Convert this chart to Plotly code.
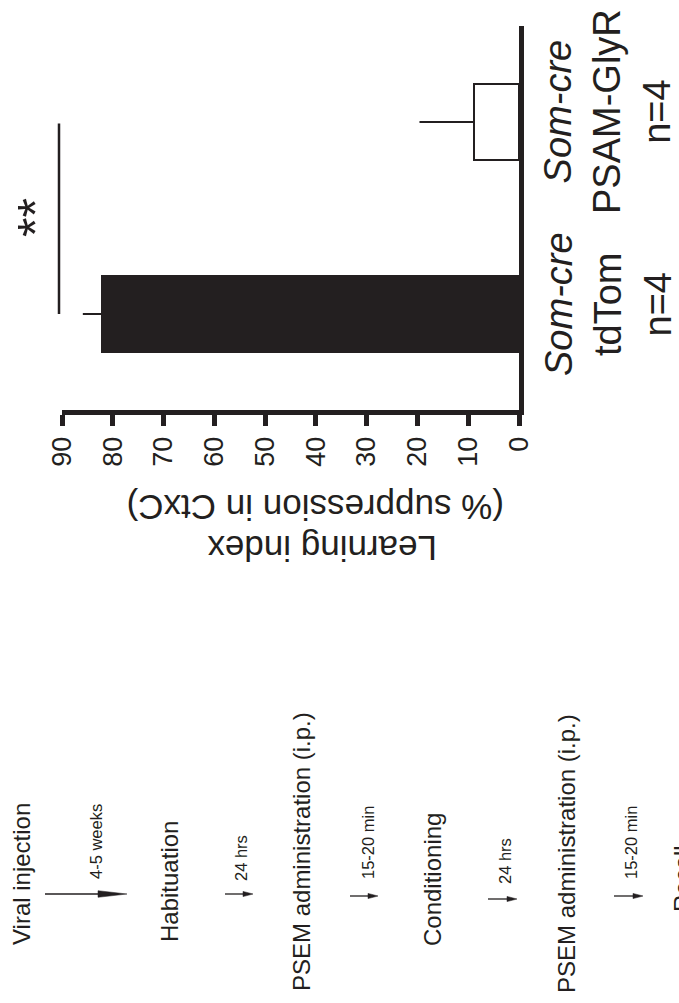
import plotly.graph_objects as go

# ---------------- data ----------------
categories = ["tdTom", "PSAM-GlyR"]
category_labels = ["<i>Som-cre</i><br>tdTom<br>n=4", "<i>Som-cre</i><br>PSAM-GlyR<br>n=4"]
learning_index = [82.2, 8.8]
learning_sem = [3.7, 10.8]
bar_colors = ["#231f20", "#ffffff"]
value_ticks = [0, 10, 20, 30, 40, 50, 60, 70, 80, 90]
sig_value = 90
sig_label = "**"
axis_title_lines = ["Learning index", "(% suppression in CtxC)"]

timeline_steps = ["Viral injection", "Habituation", "PSEM administration (i.p.)",
                  "Conditioning", "PSEM administration (i.p.)", "Recall"]
timeline_intervals = ["4-5 weeks", "24 hrs", "15-20 min", "24 hrs", "15-20 min"]

# ---------------- layout helpers ----------------
W, H = 679, 1003
INK = "#231f20"
FONT = "Liberation Sans, Arial, Helvetica, sans-serif"


def px(x):
    return x / W


def py(y):
    return 1 - y / H


fig = go.Figure(
    go.Bar(
        orientation="h",
        x=learning_index,
        y=categories,
        width=0.4,
        marker=dict(color=bar_colors, line=dict(color=INK, width=2)),
        error_x=dict(type="data", symmetric=False, array=learning_sem,
                     arrayminus=[0] * len(learning_sem), width=0,
                     thickness=2, color=INK),
        showlegend=False,
    )
)

annotations = []
shapes = []

# category labels (rotated)
for cat, lab in zip(categories, category_labels):
    annotations.append(dict(x=px(608), xref="paper", y=cat, yref="y", text=lab,
                            showarrow=False, textangle=-90, yshift=10,
                            font=dict(size=38, color=INK, family=FONT),
                            xanchor="center", yanchor="middle"))

# significance bracket (annotation arrow in data coords, not clipped)
annotations.append(dict(x=sig_value, y=categories[0], xref="x", yref="y",
                        ax=sig_value, ay=categories[1], axref="x", ayref="y",
                        text="", showarrow=True, arrowhead=0, arrowwidth=2.5,
                        arrowcolor=INK, standoff=0, startstandoff=0, xshift=-3))
annotations.append(dict(x=sig_value, xref="x", y=0.5, yref="y", text=sig_label,
                        showarrow=False, textangle=-90, xshift=-26,
                        font=dict(size=50, color=INK, family=FONT),
                        xanchor="center", yanchor="middle"))

# axis title (upside-down)
title_pos = [(322, 549), (316, 508)]
for t, (xx, yy) in zip(axis_title_lines, title_pos):
    annotations.append(dict(x=px(xx), y=py(yy), xref="paper", yref="paper", text=t,
                            showarrow=False, textangle=180,
                            font=dict(size=35, color=INK, family=FONT),
                            xanchor="center", yanchor="middle"))

# timeline texts
step_pos = [(21, 874), (169, 882), (301, 852), (432, 880), (566, 854), (682, 879)]
for t, (xx, yy) in zip(timeline_steps, step_pos):
    annotations.append(dict(x=px(xx), y=py(yy), xref="paper", yref="paper", text=t,
                            showarrow=False, textangle=-90,
                            font=dict(size=24, color=INK, family=FONT),
                            xanchor="center", yanchor="middle"))

interval_pos = [(96, 842), (241, 858), (368, 843), (505, 861), (631, 843)]
for t, (xx, yy) in zip(timeline_intervals, interval_pos):
    annotations.append(dict(x=px(xx), y=py(yy), xref="paper", yref="paper", text=t,
                            showarrow=False, textangle=-90,
                            font=dict(size=16.5, color=INK, family=FONT),
                            xanchor="center", yanchor="middle"))

# timeline arrows: (x start, x tip, y, head length, head half-height)
arrow_geom = [(45, 127, 894, 29, 3.3), (225, 253, 894, 10, 2.6), (350, 378, 896, 10, 2.6),
              (488, 517, 899, 10, 2.6), (614, 643, 896, 10, 2.6)]
for x0, x1, yy, hl, hh in arrow_geom:
    shapes.append(dict(type="line", xref="paper", yref="paper",
                       x0=px(x0), x1=px(x1 - hl + 1), y0=py(yy), y1=py(yy),
                       line=dict(color=INK, width=1.3)))
    path = (f"M {px(x1)} {py(yy)} L {px(x1 - hl)} {py(yy - hh)} "
            f"L {px(x1 - hl)} {py(yy + hh)} Z")
    shapes.append(dict(type="path", xref="paper", yref="paper", path=path,
                       fillcolor=INK, line=dict(color=INK, width=0.5)))

fig.update_layout(
    width=W, height=H, autosize=False,
    margin=dict(l=0, r=0, t=0, b=0, autoexpand=False),
    paper_bgcolor="white", plot_bgcolor="white",
    font=dict(family=FONT, color=INK),
    bargap=0,
    xaxis=dict(domain=[px(62), px(519)], range=[90, 0], tickvals=value_ticks,
               ticks="outside", ticklen=11, tickwidth=5, tickcolor=INK,
               showline=True, linewidth=5, linecolor=INK, tickangle=-90,
               tickfont=dict(size=27, color=INK, family=FONT),
               showgrid=False, zeroline=False, fixedrange=True, automargin=False),
    yaxis=dict(domain=[py(410), py(26)], range=[-0.5, 1.5], type="category",
               categoryorder="array", categoryarray=categories, side="right",
               showline=True, linewidth=5, linecolor=INK, ticks="",
               showticklabels=False, showgrid=False, zeroline=False, fixedrange=True,
               automargin=False),
    annotations=annotations,
    shapes=shapes,
)

fig.write_html(
    "out.html",
    config={"displayModeBar": False},
    post_script="document.body.style.margin='0';document.body.style.overflow='hidden';",
)
